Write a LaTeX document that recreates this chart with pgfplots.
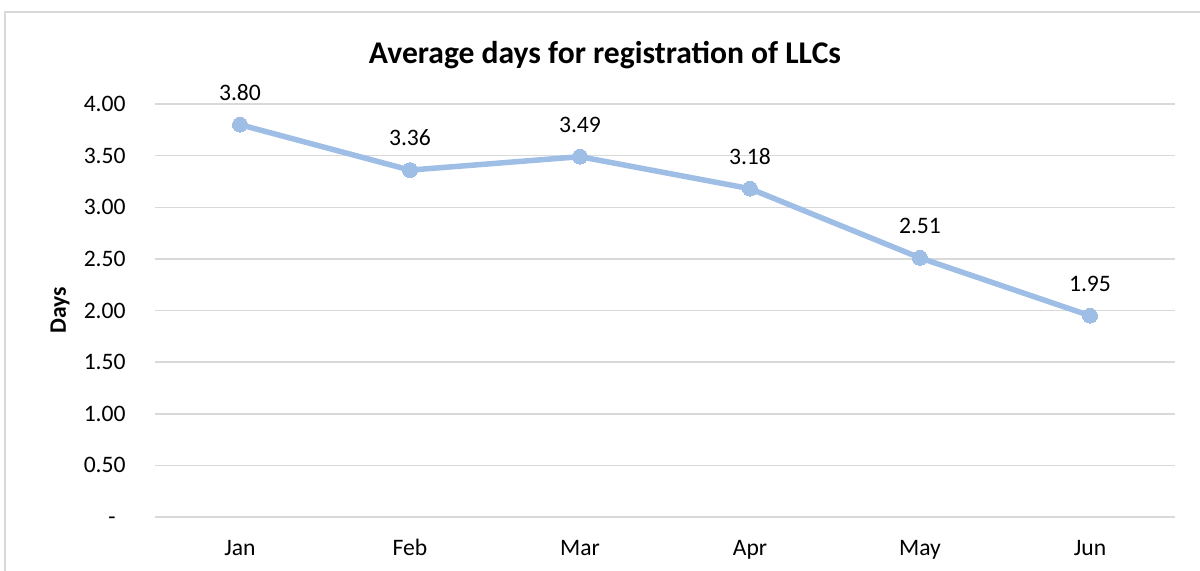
\documentclass[border=0pt]{standalone}
\usepackage{pgfplots}
\pgfplotsset{compat=1.18}
\usepackage{fontspec}
\setmainfont{Carlito}
\definecolor{linec}{RGB}{158,190,230}
\definecolor{gridc}{RGB}{217,217,217}
\definecolor{txt}{RGB}{0,0,0}
\begin{document}
\begin{tikzpicture}
\begin{axis}[
  at={(77.5pt,-258.5pt)}, anchor=south west,
  scale only axis, width=510pt, height=206.5pt,
  xmin=-0.5, xmax=5.5, ymin=0, ymax=4,
  xtick={0,1,2,3,4,5},
  xticklabels={Jan,Feb,Mar,Apr,May,Jun},
  ytick={0,0.5,1,1.5,2,2.5,3,3.5,4},
  yticklabels={\vphantom{0}-\hspace*{5pt},0.50,1.00,1.50,2.00,2.50,3.00,3.50,4.00},
  axis line style={draw=none},
  major tick length=0pt,
  ymajorgrids,
  grid style={draw=gridc, line width=0.75pt},
  tick label style={font=\fontsize{11.8}{14}\selectfont, text=txt},
  yticklabel style={anchor=east, inner sep=0pt, xshift=-14.5pt},
  xticklabel style={anchor=base, inner sep=0pt, yshift=-19.25pt},
  ylabel={Days},
  every axis y label/.style={at={(axis description cs:-0.0931,0.5)}, rotate=90, anchor=center, font=\fontsize{11.8}{14}\selectfont\bfseries},
  title={Average days for registration of LLCs},
  every axis title/.style={at={(axis description cs:0.4412,1.1186)}, anchor=center, yshift=0pt, font=\fontsize{15.8}{19}\selectfont\bfseries},
  clip=false,
  /pgf/number format/assume math mode=true,
  nodes near coords={\pgfmathprintnumber[fixed,fixed zerofill,precision=2]{\pgfplotspointmeta}},
  every node near coord/.append style={anchor=center, yshift=16pt, font=\fontsize{11.8}{14}\selectfont, text=txt},
]
\addplot[color=linec, line width=2.75pt, mark=*, mark size=3.75pt, mark options={fill=linec, draw=linec, line width=0pt}]
  coordinates {(0,3.80) (1,3.36) (2,3.49) (3,3.18) (4,2.51) (5,1.95)};
\end{axis}
\draw[gridc, line width=0.75pt, overlay] (2.5pt,-300pt) -- (2.5pt,-6pt) -- (620pt,-6pt);
\pgfresetboundingbox
\useasboundingbox (0,0) rectangle (600pt,-285pt);
\end{tikzpicture}
\end{document}
